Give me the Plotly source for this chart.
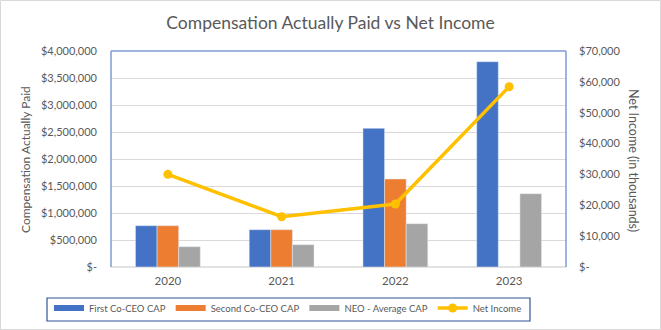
import plotly.graph_objects as go

years = ["2020", "2021", "2022", "2023"]
first_ceo = [765000, 691000, 2568000, 3802000]
second_ceo = [765000, 691000, 1630000, None]
neo_avg = [376000, 413000, 802000, 1357000]
net_income = [30040, 16300, 20400, 58430]

left_ticks = [0, 500000, 1000000, 1500000, 2000000, 2500000, 3000000, 3500000, 4000000]
left_text = ["$-", "$500,000", "$1,000,000", "$1,500,000", "$2,000,000",
             "$2,500,000", "$3,000,000", "$3,500,000", "$4,000,000"]
right_ticks = [0, 10000, 20000, 30000, 40000, 50000, 60000, 70000]
right_text = ["$-", "$10,000", "$20,000", "$30,000", "$40,000", "$50,000", "$60,000", "$70,000"]

FONT = "Lato"
GRAY = "#595959"
BAR_COLORS = ["#4472C4", "#ED7D31", "#A5A5A5"]
BAR_NAMES = ["First Co-CEO CAP", "Second Co-CEO CAP", "NEO - Average CAP"]

fig = go.Figure()
for vals, name, col in zip([first_ceo, second_ceo, neo_avg], BAR_NAMES, BAR_COLORS):
    fig.add_trace(go.Bar(x=years, y=vals, name=name, marker_color=col,
                         legendgroup=name, showlegend=False))
# legend swatches (wide rectangles like the original)
for name, col in zip(BAR_NAMES, BAR_COLORS):
    fig.add_trace(go.Scatter(x=[None], y=[None], mode="lines", name=name,
                             legendgroup=name, line=dict(color=col, width=6)))
fig.add_trace(go.Scatter(x=years, y=net_income, name="Net Income", yaxis="y2",
                         mode="lines+markers",
                         line=dict(color="#FFC000", width=3.5),
                         marker=dict(color="#FFC000", size=9)))

L, R, T, B = 111, 95, 51, 63
W, H = 661, 330
pw, ph = W - L - R, H - T - B

def px(x):
    return (x - L) / pw

def py(y):
    return (H - B - y) / ph

fig.update_layout(
    width=W, height=H,
    margin=dict(l=L, r=R, t=T, b=B, autoexpand=False),
    paper_bgcolor="white", plot_bgcolor="white",
    font=dict(family=FONT, color=GRAY, size=11),
    barmode="group", bargap=0.43, bargroupgap=0,
    title=dict(text="Compensation Actually Paid vs Net Income", x=0.5, xanchor="center",
               y=1 - 23 / H, yanchor="middle", font=dict(size=17.5, color=GRAY, family=FONT)),
    xaxis=dict(showgrid=False, showline=False, ticks="", tickfont=dict(size=11.5, color=GRAY),
               ticklabelstandoff=5),
    yaxis=dict(range=[0, 4000000], tickvals=left_ticks, ticktext=left_text,
               showgrid=True, gridcolor="#D9D9D9", gridwidth=1, zeroline=False,
               showline=False, ticks="", ticklabelstandoff=13,
               tickfont=dict(size=11, color=GRAY)),
    yaxis2=dict(range=[0, 70000], tickvals=right_ticks, ticktext=right_text,
                overlaying="y", side="right", showgrid=False, zeroline=False,
                showline=False, ticks="", ticklabelstandoff=12,
                tickfont=dict(size=11, color=GRAY)),
    legend=dict(orientation="h", x=px(49), xanchor="left", y=py(293.5), yanchor="top",
                borderwidth=0, bgcolor="rgba(0,0,0,0)",
                font=dict(size=9.5, color=GRAY), itemwidth=30,
                traceorder="normal"),
    showlegend=True,
)

shapes = [
    dict(type="rect", xref="paper", yref="paper", x0=px(0.5), x1=px(660.5),
         y0=py(329.5), y1=py(0.5), line=dict(color="#D9D9D9", width=1), layer="below"),
    # legend box
    dict(type="rect", xref="paper", yref="paper", x0=px(47), x1=px(530),
         y0=py(321), y1=py(298), line=dict(color="#2F5597", width=1.2),
         fillcolor="white", layer="below"),
    dict(type="line", xref="paper", yref="paper", x0=0, x1=1, y0=0, y1=0,
         line=dict(color="#D9D9D9", width=1.5), layer="below"),
    dict(type="line", xref="paper", yref="paper", x0=0, x1=0, y0=0, y1=1,
         line=dict(color="#7F9BCF", width=1.5)),
    dict(type="line", xref="paper", yref="paper", x0=0, x1=1, y0=1, y1=1,
         line=dict(color="#7F9BCF", width=1.5)),
    dict(type="line", xref="paper", yref="paper", x0=1, x1=1, y0=0, y1=1,
         line=dict(color="#7F9BCF", width=1.5)),
]
fig.update_layout(shapes=shapes)

fig.add_annotation(text="Compensation Actually Paid", xref="paper", yref="paper",
                   x=px(25), y=py(160), textangle=-90, showarrow=False,
                   font=dict(size=12, color=GRAY, family=FONT), xanchor="center", yanchor="middle")
fig.add_annotation(text="Net Income (in thousands)", xref="paper", yref="paper",
                   x=px(634), y=py(160), textangle=90, showarrow=False,
                   font=dict(size=12.5, color=GRAY, family=FONT), xanchor="center", yanchor="middle")

fig.write_html("out.html")
